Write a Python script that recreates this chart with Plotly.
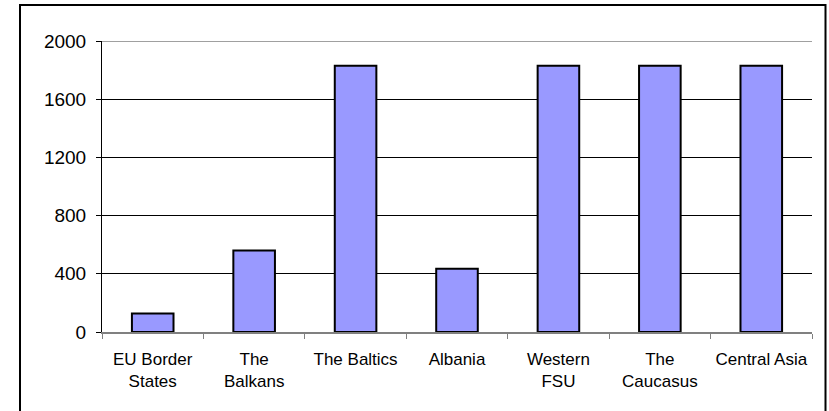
import plotly.graph_objects as go

# Regions and their values
regions = ["EU Border<br>States", "The<br>Balkans", "The Baltics", "Albania",
           "Western<br>FSU", "The<br>Caucasus", "Central Asia"]
values = [128, 560, 1830, 434, 1830, 1830, 1830]
y_ticks = [0, 400, 800, 1200, 1600, 2000]

W, H = 829, 411
L, R, T, B = 102, 17, 40.5, 78.5
pw, ph = W - L - R, H - T - B

def px_x(x):
    return (x - L) / pw

def px_y(y):
    return (H - B - y) / ph

font = "Liberation Sans, Arial, sans-serif"

fig = go.Figure(go.Bar(
    x=regions, y=values,
    marker=dict(color="#9999FF", line=dict(color="black", width=2)),
))

fig.update_layout(
    width=W, height=H,
    margin=dict(l=L, r=R, t=T, b=B),
    paper_bgcolor="white", plot_bgcolor="white",
    bargap=0.59,
    showlegend=False,
    font=dict(family=font, color="black"),
    shapes=[
        # chart frame
        dict(type="rect", xref="paper", yref="paper",
             x0=px_x(20), x1=px_x(825.5), y0=px_y(416), y1=px_y(4.5),
             line=dict(color="black", width=2), layer="below"),
        # top gridline at the axis maximum
        dict(type="line", xref="paper", yref="y",
             x0=0, x1=1, y0=2000, y1=2000,
             line=dict(color="#808080", width=1.5)),
    ],
)

fig.update_yaxes(
    range=[0, 2000], tickvals=y_ticks,
    showgrid=True, gridcolor="black", gridwidth=1,
    showline=True, linecolor="black", linewidth=1,
    ticks="outside", ticklen=5, tickcolor="black",
    tickfont=dict(size=19, family=font, color="black"),
    ticklabelstandoff=6,
    zeroline=False,
)
fig.update_xaxes(
    showline=True, linecolor="#808080", linewidth=1.5,
    ticks="outside", ticklen=5, tickcolor="#808080", tickson="boundaries",
    tickfont=dict(size=17, family=font, color="black"),
    ticklabelstandoff=11,
    showgrid=False,
)

fig.write_html("out.html")
